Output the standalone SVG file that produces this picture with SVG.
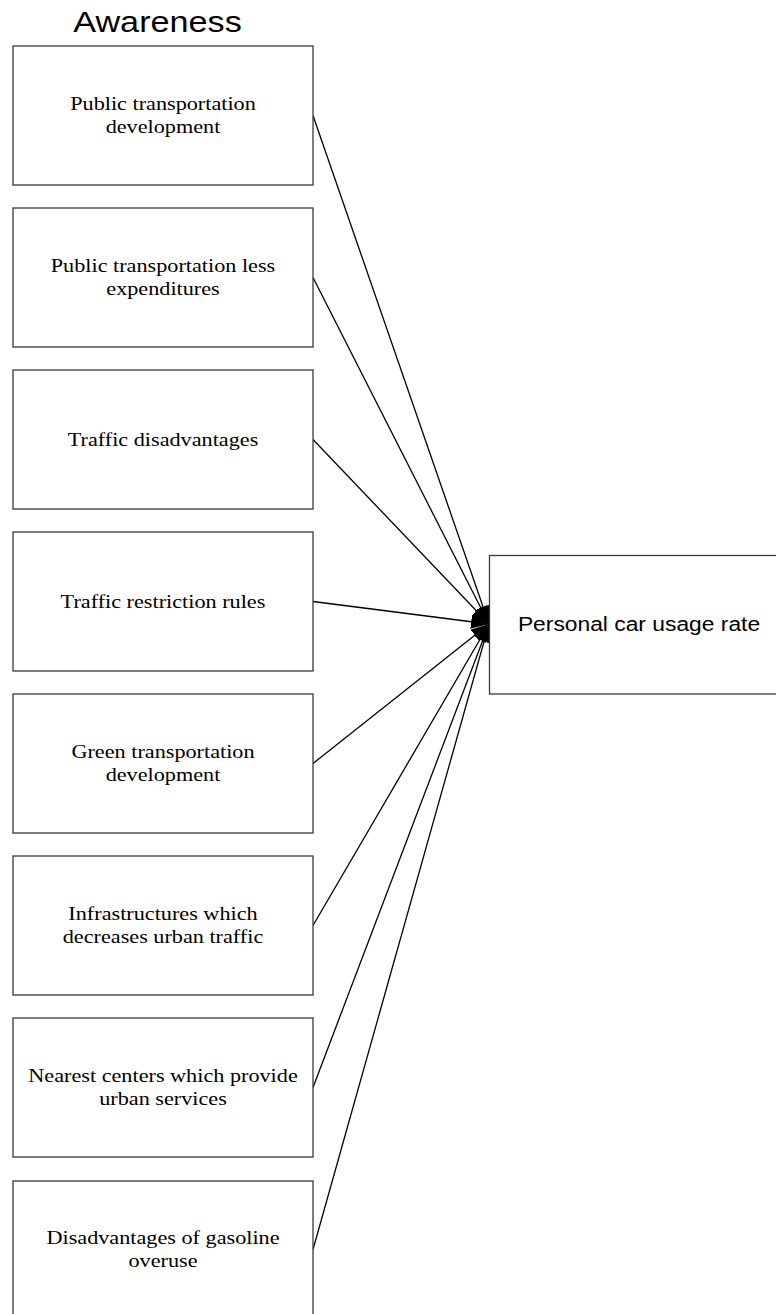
<svg xmlns="http://www.w3.org/2000/svg" width="776" height="1314" viewBox="0 0 776 1314">
<style>
.box{fill:#fff;stroke:#3a3a3a;stroke-width:1.3}
.lbl{font-family:"Liberation Serif","Times New Roman",serif;font-size:19px;fill:#000;text-anchor:middle}
.sans{font-family:"Liberation Sans",Arial,sans-serif;fill:#000;text-anchor:middle}
.conn{stroke:#000;stroke-width:1.3;fill:none;marker-end:url(#ah)}
</style>
<defs>
<marker id="ah" markerUnits="userSpaceOnUse" markerWidth="20" markerHeight="14" refX="18" refY="7" orient="auto">
<path d="M0,0 L18,7 L0,14 Z" fill="#000"/>
</marker>
</defs>
<rect width="776" height="1314" fill="#fff"/>
<text class="sans" font-size="30" transform="translate(157.5,32) scale(1.14,1)">Awareness</text>
<g id="connectors">
<line class="conn" x1="313" y1="115.5" x2="489" y2="624"/>
<line class="conn" x1="313" y1="277.5" x2="489" y2="624"/>
<line class="conn" x1="313" y1="439.5" x2="489" y2="624"/>
<line class="conn" x1="313" y1="601.5" x2="489" y2="624"/>
<line class="conn" x1="313" y1="763.5" x2="489" y2="624"/>
<line class="conn" x1="313" y1="925.5" x2="489" y2="624"/>
<line class="conn" x1="313" y1="1087.5" x2="489" y2="624"/>
<line class="conn" x1="313" y1="1249.5" x2="489" y2="624"/>
</g>
<g id="n1"><rect class="box" x="13" y="46" width="300" height="139"/>
<text class="lbl" transform="translate(163,110) scale(1.17,1)">Public transportation</text>
<text class="lbl" transform="translate(163,133) scale(1.17,1)">development</text></g>
<g id="n2"><rect class="box" x="13" y="208" width="300" height="139"/>
<text class="lbl" transform="translate(163,272) scale(1.17,1)">Public transportation less</text>
<text class="lbl" transform="translate(163,295) scale(1.17,1)">expenditures</text></g>
<g id="n3"><rect class="box" x="13" y="370" width="300" height="139"/>
<text class="lbl" transform="translate(163,445.5) scale(1.17,1)">Traffic disadvantages</text></g>
<g id="n4"><rect class="box" x="13" y="532" width="300" height="139"/>
<text class="lbl" transform="translate(163,607.5) scale(1.17,1)">Traffic restriction rules</text></g>
<g id="n5"><rect class="box" x="13" y="694" width="300" height="139"/>
<text class="lbl" transform="translate(163,758) scale(1.17,1)">Green transportation</text>
<text class="lbl" transform="translate(163,781) scale(1.17,1)">development</text></g>
<g id="n6"><rect class="box" x="13" y="856" width="300" height="139"/>
<text class="lbl" transform="translate(163,920) scale(1.17,1)">Infrastructures which</text>
<text class="lbl" transform="translate(163,943) scale(1.17,1)">decreases urban traffic</text></g>
<g id="n7"><rect class="box" x="13" y="1018" width="300" height="139"/>
<text class="lbl" transform="translate(163,1082) scale(1.17,1)">Nearest centers which provide</text>
<text class="lbl" transform="translate(163,1105) scale(1.17,1)">urban services</text></g>
<g id="n8"><rect class="box" x="13" y="1181" width="300" height="139"/>
<text class="lbl" transform="translate(163,1244) scale(1.17,1)">Disadvantages of gasoline</text>
<text class="lbl" transform="translate(163,1267) scale(1.17,1)">overuse</text></g>
<g id="target"><rect class="box" x="489.5" y="555.5" width="300" height="138.5"/>
<text class="sans" font-size="19.5" transform="translate(639,631) scale(1.17,1)">Personal car usage rate</text></g>
</svg>
